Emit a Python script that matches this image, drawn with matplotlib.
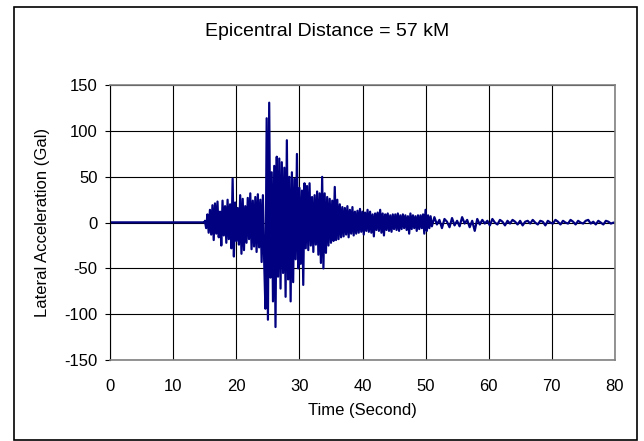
import numpy as np
import matplotlib
matplotlib.use('Agg')
import matplotlib.pyplot as plt
from matplotlib.patches import Rectangle

plt.rcParams['font.family'] = ['Liberation Sans', 'DejaVu Sans']
plt.rcParams['axes.unicode_minus'] = False

# quiet part before the arrival
t_quiet = [0.0, 15.0]
acc_quiet = [0.3, 0.3]

# strong part, read every 0.2 s from 15.0 s to 50.8 s
t_strong = np.arange(15.0, 50.9, 0.2)
acc_strong = [
    2, -6, 9, -11, 14, -13, 19, -19, 21, -12,
    23, -16, 12, -25, 24, -14, 18, -22, 25, -18,
    20, -28, 48, -37, 22, -20, 16, -24, 30, -34,
    26, -30, 18, -22, 27, -18, 32, -29, 24, -26,
    28, -32, 31, -27, 25, -43, 30, -41, -94, 114,
    -106, 131, -60, 55, -86, 62, -114, 72, -59, 70,
    -72, 66, -55, 60, -81, 90, -62, 50, -86, 55,
    -65, 48, -40, 75, -50, 38, -45, 35, -68, 43,
    -28, 40, -30, 43, -25, 28, -32, 30, -24, 34,
    -35, 32, -44, 50, -50, 32, -33, 28, -25, 26,
    -22, 24, -20, 39, -19, 25, -18, 20, -16, 17,
    -15, 16, -13, 18, -16, 14, -12, 17, -14, 12,
    -12, 13, -11, 15, -10, 12, -13, 11, -9, 14,
    -10, 12, -11, 9, -15, 10, -8, 11, -9, 14,
    -11, 10, -14, 9, -8, 10, -9, 8, -10, 9,
    -7, 9, -8, 10, -9, 8, -7, 9, -6, 8,
    -8, 7, -12, 10, -7, 8, -6, 7, -9, 8,
    -7, 8, -6, 9, -12, 14, -9, 8, -6, 7,
]

# coda, read every 0.4 s from 51.0 s to 79.8 s
t_coda = np.arange(51.0, 79.9, 0.4)
acc_coda = [
    -4, 6, -2, 3, -6, 4, 1, -5, 5, -3,
    2, -4, 6, -1, 3, -5, 2, -9, 4, -2,
    3, -1, 2, -3, 4, 0, -2, 3, 1, -3,
    2, -1, 3, 1, -2, 2, -3, 1, 2, -1,
    3, 0, -2, 2, 1, -3, 2, 0, -1, 3,
    1, -2, 2, 0, -1, 3, 1, -2, 2, 0,
    -1, 2, 3, -1, 1, -2, 2, 0, -2, 2,
    1, -1, 0,
]

t = np.concatenate([t_quiet, t_strong[:len(acc_strong)], t_coda[:len(acc_coda)], [80.0]])
acc = np.concatenate([acc_quiet, acc_strong, acc_coda, [0]])

fig = plt.figure(figsize=(6.44, 4.41), dpi=100)
ax = fig.add_axes([0.1713, 0.1837, 0.7832, 0.6229])

ax.plot(t, acc, color='#000080', lw=1.6)

ax.set_xlim(0, 80)
ax.set_ylim(-150, 150)
ax.set_xticks(np.arange(0, 81, 10))
ax.set_yticks(np.arange(-150, 151, 50))
ax.grid(True, color='black', lw=0.8)
ax.set_axisbelow(True)

ax.tick_params(axis='x', length=0, pad=13.5, labelsize=12)
ax.tick_params(axis='y', length=3.6, pad=5.5, labelsize=12, direction='out')
for s in ['top', 'right', 'bottom']:
    ax.spines[s].set_color('#808080')
    ax.spines[s].set_linewidth(1.2)
ax.spines['left'].set_color('black')

fig.text(362.5 / 644, 1 - 411 / 441, 'Time (Second)', ha='center', va='center', fontsize=12)
fig.text(43 / 644, 1 - 222.5 / 441, 'Lateral Acceleration (Gal)', ha='center', va='center',
         rotation=90, fontsize=12)
fig.text(327 / 644, 1 - 32 / 441, 'Epicentral Distance = 57 kM',
         ha='center', va='center', fontsize=14)

fig.patches.append(Rectangle((14 / 644, 1 / 441), 623 / 644, 433 / 441,
                             transform=fig.transFigure, fill=False,
                             edgecolor='black', lw=1.2))

fig.savefig('out.png', dpi=100)
